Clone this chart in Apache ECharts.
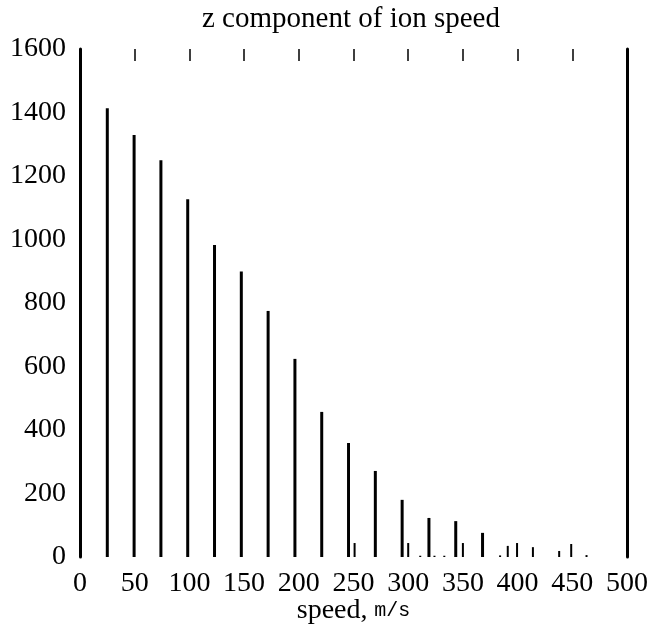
<!DOCTYPE html>
<html>
<head>
<meta charset="utf-8">
<script src="https://cdn.jsdelivr.net/npm/echarts@6/dist/echarts.min.js"></script>
<style>
html,body{margin:0;padding:0;background:#fff;}
#c{width:660px;height:626px;}
</style>
</head>
<body>
<div id="c"></div>
<script>
// Histogram bin centres (speed, m/s) and counts
const mainX = [24.5, 49, 73.5, 98, 122.5, 147, 171.5, 196, 220.5, 245, 269.5, 294, 318.5, 343, 367.5];
const mainY = [1413, 1329, 1250, 1127, 983, 899, 775, 624, 457, 359, 271, 180, 123, 113, 76];
const minorX = [251, 300, 311, 324, 333, 350, 384, 391, 399.5, 414, 438, 449, 463];
const minorY = [44, 44, 4, 4, 4, 44, 5, 35, 44, 31, 19, 41, 6];
const yTicks = [0, 200, 400, 600, 800, 1000, 1200, 1400, 1600];
const xTicks = [0, 50, 100, 150, 200, 250, 300, 350, 400, 450, 500];

const serif = '"Liberation Serif", "DejaVu Serif", serif';
const chart = echarts.init(document.getElementById('c'), null, {renderer: 'canvas'});
chart.setOption({
  animation: false,
  backgroundColor: '#fff',
  title: {
    text: 'z component of ion speed',
    left: 197, top: 0,
    textStyle: {fontFamily: serif, fontSize: 29, fontWeight: 'normal', color: '#000'}
  },
  grid: {left: 80, right: 33, top: 49, bottom: 69, outerBoundsMode: 'none', containLabel: false},
  xAxis: [{
    type: 'value', min: xTicks[0], max: xTicks[xTicks.length - 1], interval: 50,
    axisLine: {show: false, onZero: false}, axisTick: {show: false}, splitLine: {show: false},
    axisLabel: {fontFamily: serif, fontSize: 28, color: '#000', margin: 13,
      formatter: v => String(v)},
    name: '{a|speed,}  {b|m/s}', nameLocation: 'middle', nameGap: 40, nameMoveOverlap: false,
    nameTextStyle: {
      rich: {
        a: {fontFamily: serif, fontSize: 28, color: '#000'},
        b: {fontFamily: '"Liberation Mono", "DejaVu Sans Mono", monospace', fontSize: 20, color: '#000'}
      }
    }
  }, {
    type: 'value', position: 'top', min: 0, max: 500, interval: 50,
    axisLine: {show: false, onZero: false},
    axisTick: {show: true, inside: true, length: 12, lineStyle: {color: '#000', width: 1.5}},
    axisLabel: {show: false}, splitLine: {show: false}
  }],
  yAxis: [{
    type: 'value', min: yTicks[0], max: yTicks[yTicks.length - 1], interval: 200,
    axisLine: {show: true, onZero: false, lineStyle: {color: '#000', width: 3}},
    axisTick: {show: false}, splitLine: {show: false},
    axisLabel: {fontFamily: serif, fontSize: 28, color: '#000', margin: 14,
      formatter: v => String(v)}
  }, {
    type: 'value', position: 'right', min: 0, max: 1600, interval: 200,
    axisLine: {show: true, onZero: false, lineStyle: {color: '#000', width: 3}},
    axisTick: {show: false}, axisLabel: {show: false}, splitLine: {show: false}
  }],
  series: [{
    type: 'bar', xAxisIndex: 0, yAxisIndex: 0, barWidth: 3,
    itemStyle: {color: '#000'},
    data: mainX.map((x, i) => [x, mainY[i]])
  }, {
    type: 'bar', xAxisIndex: 0, yAxisIndex: 0, barWidth: 2, barGap: '-100%',
    itemStyle: {color: '#000'},
    data: minorX.map((x, i) => [x, minorY[i]])
  }]
});
</script>
</body>
</html>
